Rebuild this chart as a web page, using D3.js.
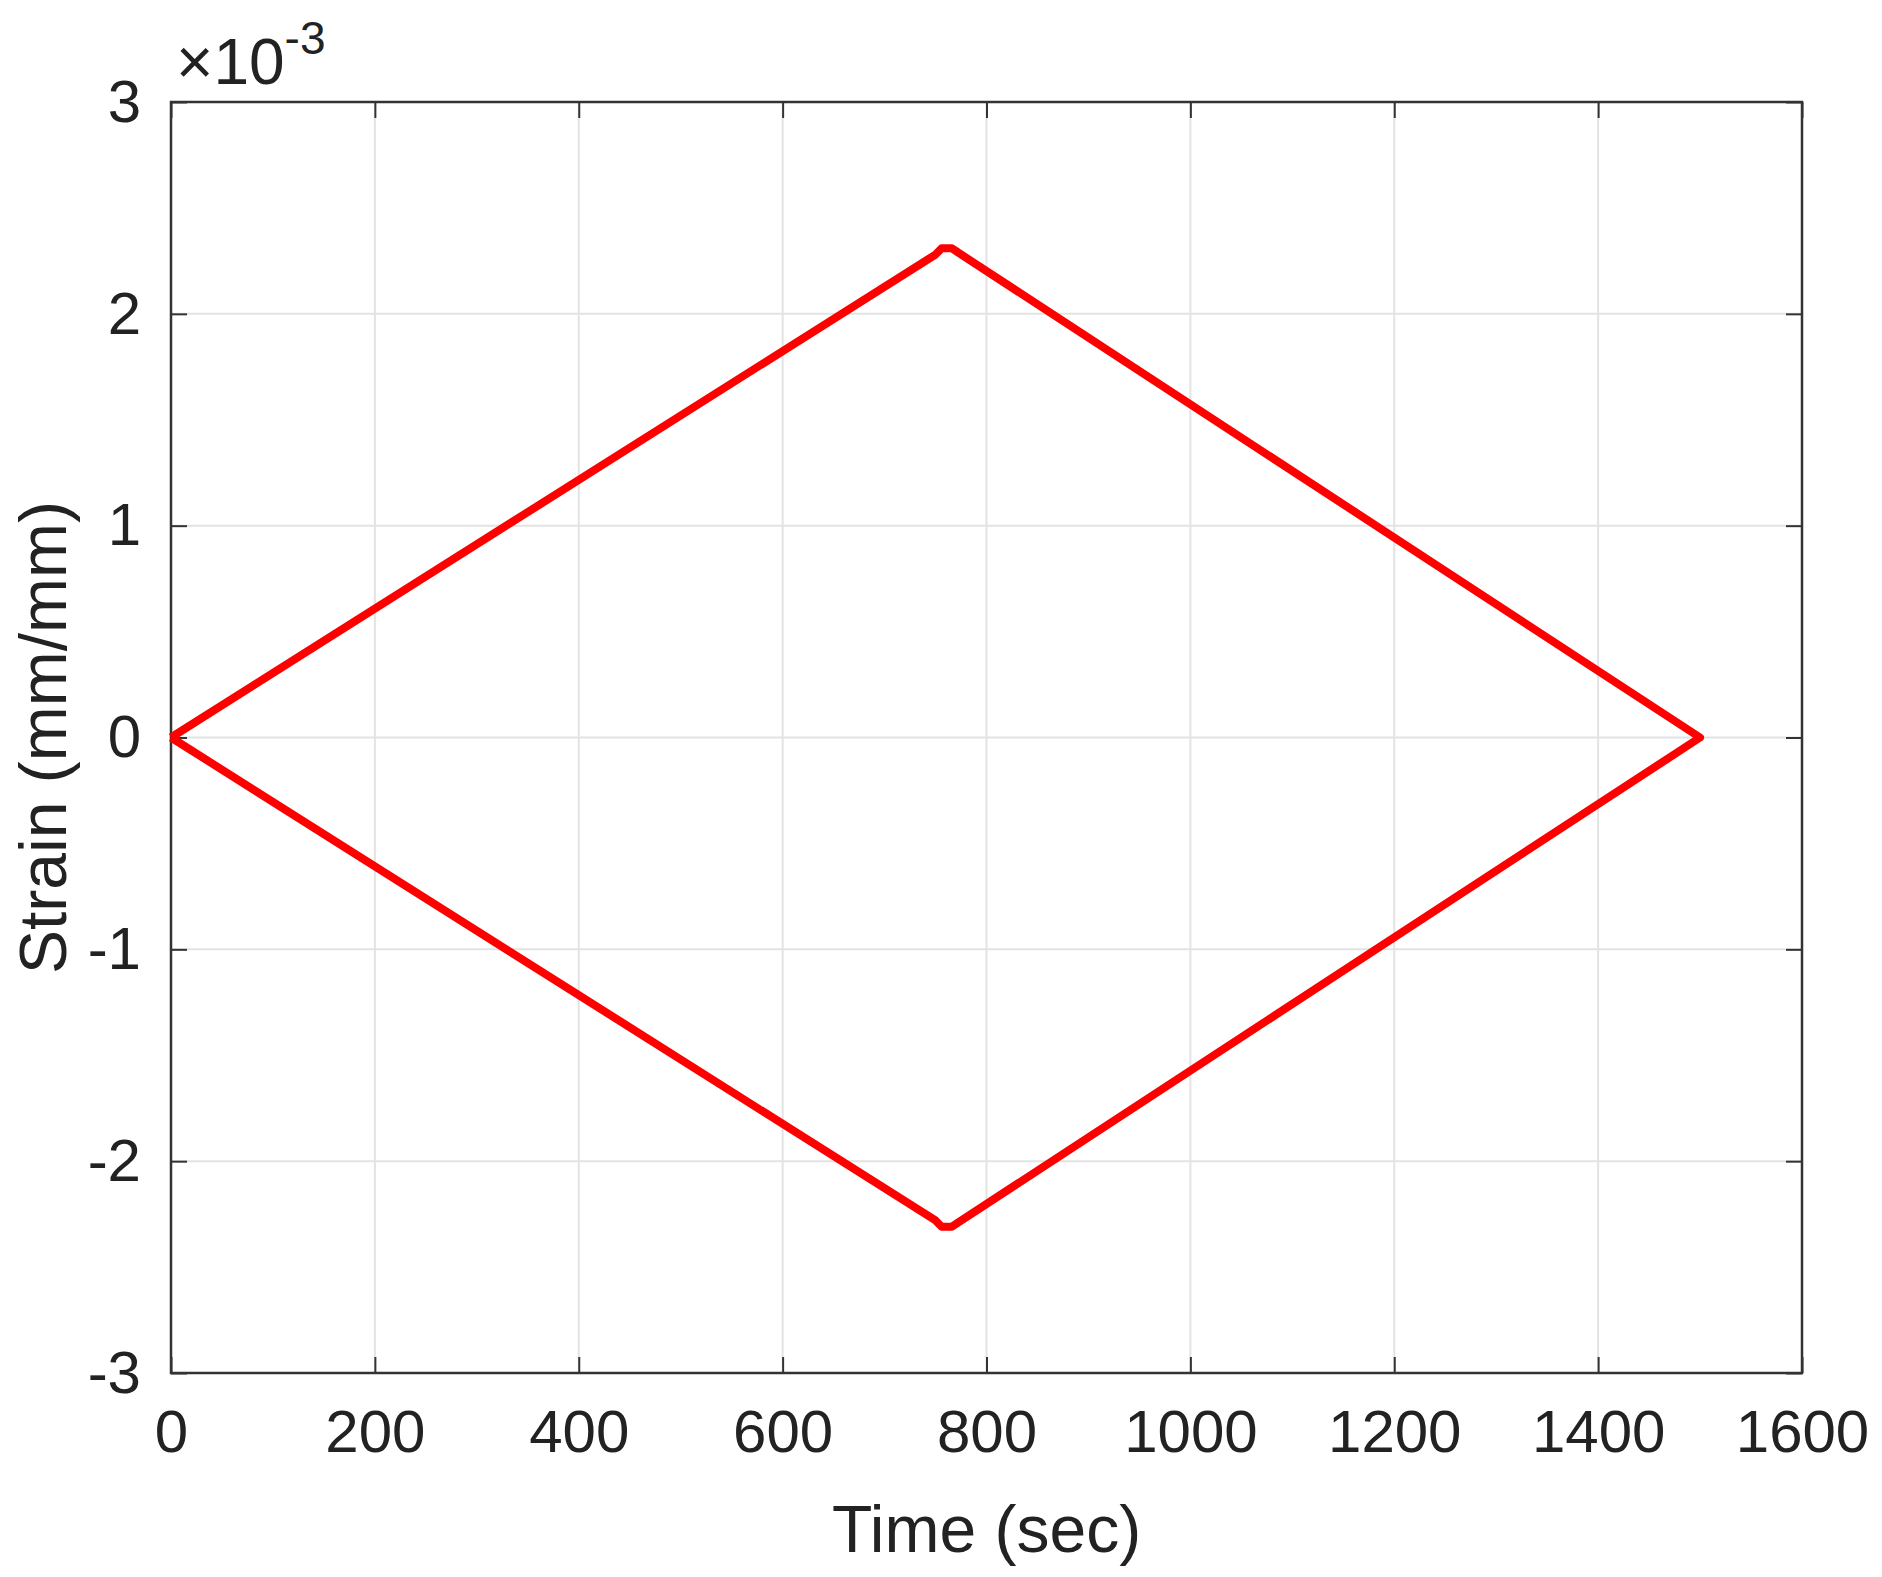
<!DOCTYPE html><html><head><meta charset="utf-8"><script src="https://cdn.jsdelivr.net/npm/d3@7"></script>
<style>body{margin:0;background:#fff}</style></head><body><svg id="c" width="1882" height="1577"></svg><script>
const times=[0,750,756,766,772,1500,772,766,756,750,0];
const strain=[0,2.28,2.31,2.31,2.29,0,-2.29,-2.31,-2.31,-2.28,0];
const xTicks=[0,200,400,600,800,1000,1200,1400,1600];
const yTicks=[-3,-2,-1,0,1,2,3];
const svg=d3.select("#c"),L=171,R=1802,T=102,B=1373;
const x=d3.scaleLinear().domain([0,1600]).range([L,R]);
const y=d3.scaleLinear().domain([-3,3]).range([B,T]);
const F="Arial, 'Liberation Sans', sans-serif";
const fmt=d=>String(d);
svg.append("g").selectAll("line").data(xTicks).join("line").attr("x1",d=>x(d)).attr("x2",d=>x(d)).attr("y1",T).attr("y2",B).attr("stroke","#e3e3e3").attr("stroke-width",2);
svg.append("g").selectAll("line").data(yTicks).join("line").attr("y1",d=>y(d)).attr("y2",d=>y(d)).attr("x1",L).attr("x2",R).attr("stroke","#e3e3e3").attr("stroke-width",2);
const ax=(g,a)=>{g.call(a);g.select(".domain").remove();g.selectAll("line").attr("stroke","#333").attr("stroke-width",2);g.selectAll("text").attr("font-family",F).attr("font-size",60).attr("fill","#222");};
svg.append("g").attr("transform",`translate(0,${B})`).call(g=>ax(g,d3.axisBottom(x).tickValues(xTicks).tickFormat(fmt).tickSize(-16).tickPadding(36)));
svg.append("g").attr("transform",`translate(0,${T})`).call(g=>ax(g,d3.axisTop(x).tickValues(xTicks).tickSize(-16).tickFormat("")));
svg.append("g").attr("transform",`translate(${L},0)`).call(g=>ax(g,d3.axisLeft(y).tickValues(yTicks).tickFormat(fmt).tickSize(-16).tickPadding(30)));
svg.append("g").attr("transform",`translate(${R},0)`).call(g=>ax(g,d3.axisRight(y).tickValues(yTicks).tickSize(-16).tickFormat("")));
svg.append("rect").attr("x",L).attr("y",T).attr("width",R-L).attr("height",B-T).attr("fill","none").attr("stroke","#333").attr("stroke-width",2.5);
svg.append("path").datum(times.map((t,i)=>[t,strain[i]])).attr("d",d3.line().x(d=>x(d[0])).y(d=>y(d[1]))).attr("fill","none").attr("stroke","#ff0000").attr("stroke-width",8).attr("stroke-linejoin","round");
svg.append("text").attr("x",(L+R)/2).attr("y",1552).attr("text-anchor","middle").attr("font-family",F).attr("font-size",66).attr("fill","#222").text("Time (sec)");
svg.append("text").attr("transform",`translate(66,${(T+B)/2}) rotate(-90)`).attr("text-anchor","middle").attr("font-family",F).attr("font-size",66).attr("fill","#222").text("Strain (mm/mm)");
const m=svg.append("text").attr("x",176).attr("y",84).attr("font-family",F).attr("font-size",64).attr("fill","#222");
m.append("tspan").text("×10");m.append("tspan").attr("font-size",46).attr("dy",-30).text("-3");
</script></body></html>
